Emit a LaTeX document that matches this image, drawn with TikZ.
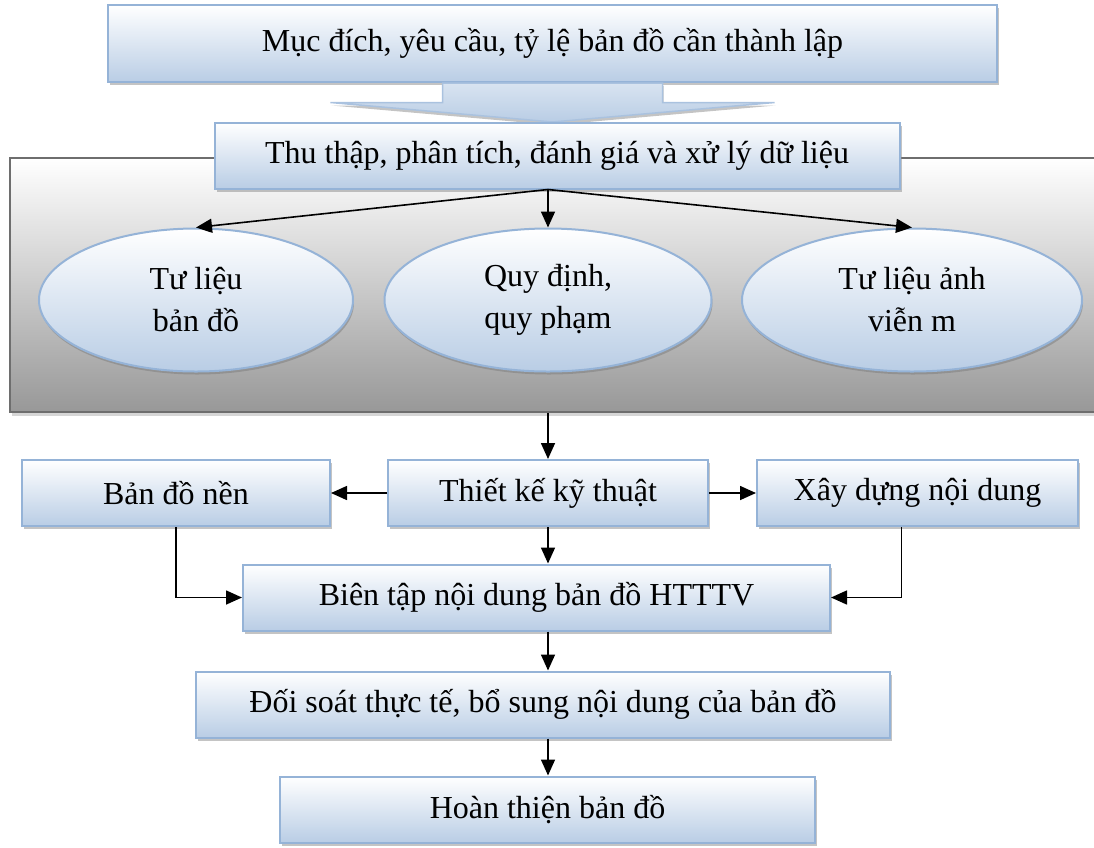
\documentclass[tikz,border=0pt]{standalone}
\usepackage{fontspec}
\setmainfont{Liberation Serif}
\usetikzlibrary{positioning,calc,shapes.geometric,shadows,arrows.meta}
\definecolor{mapBoxLine}{HTML}{95B3D7}
\definecolor{mapBoxBg}{HTML}{B9CDE5}
\definecolor{mapPanelLine}{HTML}{6E6E6E}
\definecolor{mapPanelBg}{HTML}{989898}
\definecolor{mapShadow}{HTML}{8A8A8A}
\tikzset{
  map box/.style={
    rectangle, draw=mapBoxLine, line width=2pt,
    top color=white, bottom color=mapBoxBg,
    minimum height=66pt, inner sep=0pt,
    align=center,
    drop shadow={shadow xshift=2pt, shadow yshift=-3pt, fill=mapShadow},
  },
  source ellipse/.style={
    ellipse, draw=mapBoxLine, line width=2pt,
    top color=white, bottom color=mapBoxBg,
    minimum height=143pt, inner sep=0pt,
    align=center,
    drop shadow={shadow xshift=1pt, shadow yshift=-3pt, fill=mapShadow!90!black},
  },
  data panel/.style={
    rectangle, draw=mapPanelLine, line width=2pt,
    top color=white, bottom color=mapPanelBg,
    inner sep=0pt,
    drop shadow={shadow xshift=2pt, shadow yshift=-4pt, fill=mapShadow!70},
  },
  flow arrow/.style={-{Triangle[length=16pt,width=14pt]}, line width=1.6pt},
  every node/.style={font=\fontsize{32}{42}\selectfont},
}

\begin{document}
\begin{tikzpicture}[x=1pt,y=-1pt]
\useasboundingbox (0,0) rectangle (1094,847);

% grey panel behind the data sources
\node[data panel, minimum width=1110pt, minimum height=254pt] (panel) at (565,285) {};

% top goal and the wide arrow down
\node[map box, minimum width=889pt, minimum height=77pt] (muc) at (552.5,43.5)
  {Mục đích, yêu cầu, tỷ lệ bản đồ cần thành lập};
\path[draw=mapBoxLine!80, line width=1.5pt, top color=mapBoxBg!55, bottom color=mapBoxBg,
      drop shadow={shadow xshift=1pt, shadow yshift=-3pt, fill=mapShadow}]
  ($(muc.south)+(-110,0)$) -- ++(220,0) -- ++(0,19.5) -- ++(112,0)
  -- ($(muc.south)+(0,39)$) -- ($(muc.south)+(-222,19.5)$) -- ++(112,0) -- cycle;
\node[map box, minimum width=685pt, minimum height=66pt] (tuthap) at (557,155.5)
  {Thu thập, phân tích, đánh giá và xử lý dữ liệu};

% data sources
\node[source ellipse, minimum width=314pt] (bando) at (196,300) {Tư liệu\\bản đồ};
\node[source ellipse, minimum width=327pt] (quydinh) at (548,300) {Quy định,\\quy phạm};
\node[source ellipse, minimum width=340pt] (anh) at (912,300) {Tư liệu ảnh\\viễn m};

\coordinate (hub) at (tuthap.south -| quydinh.north);
\draw[flow arrow] (hub) -- (bando.north);
\draw[flow arrow] (hub) -- (quydinh.north);
\draw[flow arrow] (hub) -- (anh.north);

% design row
\node[map box, minimum width=320pt] (thietke) at (548,493) {Thiết kế kỹ thuật};
\node[map box, minimum width=308pt] (nen) at (176,493) {Bản đồ nền};
\node[map box, minimum width=321pt] (xaydung) at (917.5,493) {Xây dựng nội dung};

% editing and finishing
\node[map box, minimum width=587pt] (bientap) at (536.5,597.5) {Biên tập nội dung bản đồ HTTTV};
\node[map box, minimum width=694pt] (doisoat) at (543,704.5) {Đối soát thực tế, bổ sung nội dung của bản đồ};
\node[map box, minimum width=535pt] (hoanthien) at (547.5,809.5) {Hoàn thiện bản đồ};

\draw[flow arrow] (thietke.north |- panel.south) -- (thietke.north);
\draw[flow arrow] (thietke.west) -- (nen.east);
\draw[flow arrow] (thietke.east) -- (xaydung.west);
\draw[flow arrow] (thietke.south) -- (thietke.south |- bientap.north);
\draw[flow arrow] (nen.south) |- (bientap.west);
\draw[flow arrow] ([xshift=-16pt]xaydung.south) |- (bientap.east);
\draw[flow arrow] (thietke.south |- bientap.south) -- (thietke.south |- doisoat.north);
\draw[flow arrow] (thietke.south |- doisoat.south) -- (thietke.south |- hoanthien.north);

\end{tikzpicture}
\end{document}
